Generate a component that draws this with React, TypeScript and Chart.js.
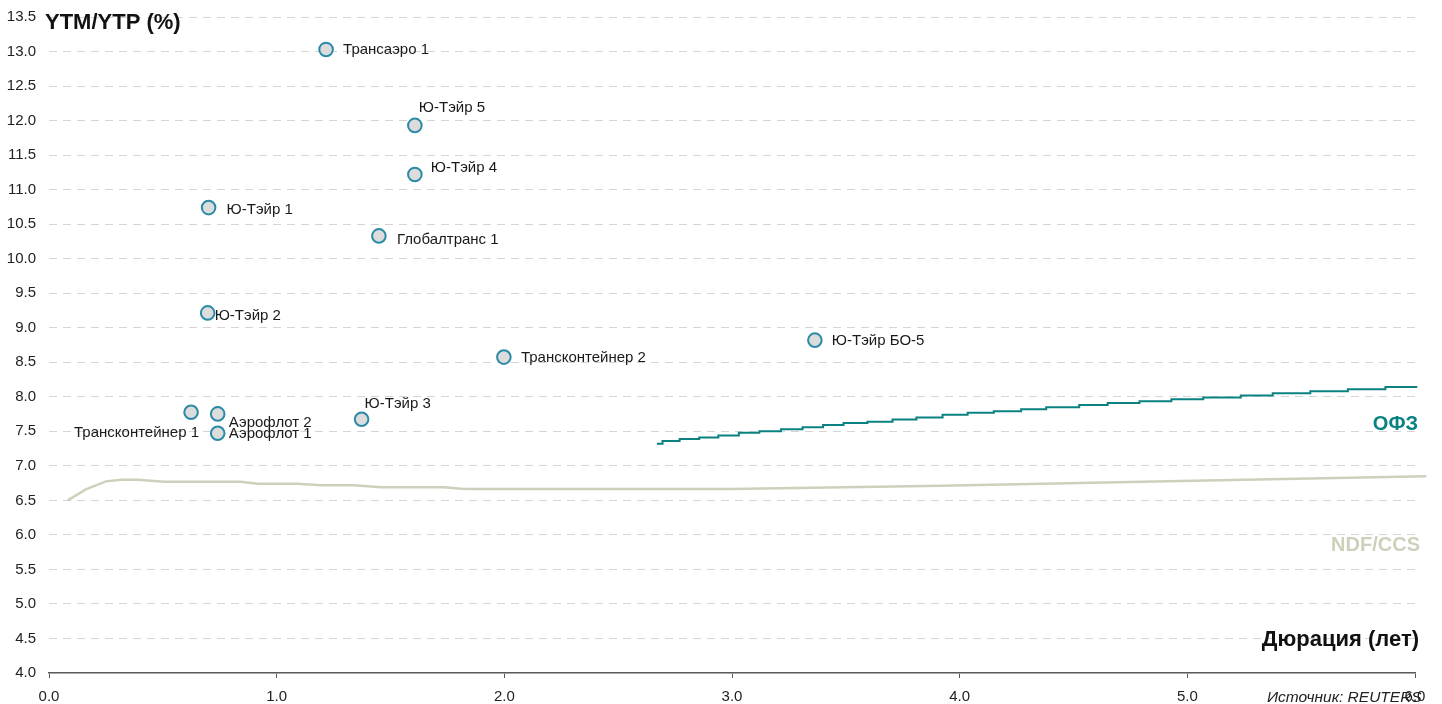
import React, { useEffect, useRef } from "react";
import { Chart, registerables } from "chart.js";

Chart.register(...registerables);

// ---- Data ----
const bondNames = [
  "Трансаэро 1",
  "Ю-Тэйр 5",
  "Ю-Тэйр 4",
  "Ю-Тэйр 1",
  "Глобалтранс 1",
  "Ю-Тэйр 2",
  "Ю-Тэйр БО-5",
  "Трансконтейнер 2",
  "Ю-Тэйр 3",
  "Трансконтейнер 1",
  "Аэрофлот 2",
  "Аэрофлот 1",
];
const bondDurations = [1.217, 1.607, 1.607, 0.701, 1.449, 0.697, 3.364, 1.998, 1.373, 0.624, 0.741, 0.741];
const bondYields = [13.03, 11.93, 11.22, 10.74, 10.33, 9.215, 8.82, 8.575, 7.675, 7.776, 7.752, 7.472];

const ofzDurations = [
  2.67, 2.695, 2.77, 2.856, 2.94, 3.03, 3.12, 3.215, 3.31, 3.4, 3.49, 3.595, 3.705, 3.81,
  3.925, 4.035, 4.15, 4.27, 4.38, 4.525, 4.65, 4.79, 4.93, 5.07, 5.235, 5.375, 5.54, 5.705,
  5.87, 6.01,
];
const ofzYields = [
  7.32, 7.36, 7.39, 7.41, 7.44, 7.48, 7.5, 7.53, 7.56, 7.59, 7.62, 7.64, 7.67, 7.7, 7.74,
  7.77, 7.79, 7.82, 7.85, 7.88, 7.91, 7.935, 7.965, 7.99, 8.02, 8.05, 8.08, 8.11, 8.14, 8.14,
];

const ndfDurations = [0.082, 0.162, 0.25, 0.316, 0.39, 0.506, 0.843, 0.917, 1.092, 1.195, 1.34, 1.458, 1.736, 1.81, 1.868, 2.995, 3.92, 4.97, 6.05];
const ndfYields = [6.5, 6.66, 6.775, 6.8, 6.8, 6.77, 6.77, 6.74, 6.74, 6.72, 6.72, 6.69, 6.69, 6.67, 6.665, 6.665, 6.71, 6.78, 6.85];

const yTicks = [4.0, 4.5, 5.0, 5.5, 6.0, 6.5, 7.0, 7.5, 8.0, 8.5, 9.0, 9.5, 10.0, 10.5, 11.0, 11.5, 12.0, 12.5, 13.0, 13.5];
const xTicks = [0, 1, 2, 3, 4, 5, 6];

const yAxisTitle = "YTM/YTP (%)";
const xAxisTitle = "Дюрация (лет)";
const ofzLabel = "ОФЗ";
const ndfLabel = "NDF/CCS";
const sourceText = "Источник: REUTERS";

// ---- Styling (label offsets in px relative to point) ----
const labelOffsets: Array<[number, number, CanvasTextAlign]> = [
  [17, 0, "left"],
  [4, -18, "left"],
  [16, -7, "left"],
  [18, 2, "left"],
  [18, 4, "left"],
  [7, 3, "left"],
  [17, 1, "left"],
  [17, 1, "left"],
  [3, -15, "left"],
  [8, 21, "right"],
  [11, 9, "left"],
  [11, 1, "left"],
];

const FONT = "'Liberation Sans', Arial, sans-serif";
const OFZ_COLOR = "#0b8282";
const NDF_COLOR = "#cfd0bb";

const annotationsPlugin = {
  id: "annotations",
  afterDatasetsDraw(chart: any) {
    const ctx = chart.ctx;
    const area = chart.chartArea;
    ctx.save();
    // point labels
    const meta = chart.getDatasetMeta(2);
    ctx.font = `15px ${FONT}`;
    ctx.fillStyle = "#1a1a1a";
    ctx.textBaseline = "middle";
    meta.data.forEach((el: any, i: number) => {
      const [dx, dy, align] = labelOffsets[i];
      ctx.textAlign = align;
      ctx.fillText(bondNames[i], el.x + dx, el.y + dy);
    });
    // titles
    ctx.font = `bold 22px ${FONT}`;
    ctx.textAlign = "left";
    ctx.fillStyle = "#111";
    ctx.fillText(yAxisTitle, area.left - 4, area.top + 6);
    ctx.textAlign = "right";
    ctx.fillText(xAxisTitle, area.right + 4, area.bottom - 33);
    ctx.font = `bold 20px ${FONT}`;
    ctx.fillStyle = OFZ_COLOR;
    ctx.fillText(ofzLabel, area.right + 3, chart.scales.y.getPixelForValue(7.6));
    ctx.fillStyle = NDF_COLOR;
    ctx.fillText(ndfLabel, area.right + 5, chart.scales.y.getPixelForValue(5.84));
    ctx.font = `italic 15.5px ${FONT}`;
    ctx.fillStyle = "#222";
    ctx.textAlign = "left";
    ctx.fillText(sourceText, area.right - 148, area.bottom + 25);
    ctx.restore();
  },
};

export default function App() {
  const ref = useRef<HTMLCanvasElement>(null);
  useEffect(() => {
    if (!ref.current) return;
    const chart = new Chart(ref.current, {
      type: "scatter",
      data: {
        datasets: [
          {
            type: "line",
            data: ndfDurations.map((x, i) => ({ x, y: ndfYields[i] })),
            borderColor: NDF_COLOR,
            borderWidth: 2.5,
            pointRadius: 0,
            tension: 0,
            fill: false,
            clip: false as any,
            order: 3,
          },
          {
            type: "line",
            data: ofzDurations.map((x, i) => ({ x, y: ofzYields[i] })),
            borderColor: OFZ_COLOR,
            borderWidth: 2,
            pointRadius: 0,
            stepped: "before",
            fill: false,
            clip: false as any,
            order: 2,
          },
          {
            type: "scatter",
            data: bondDurations.map((x, i) => ({ x, y: bondYields[i] })),
            backgroundColor: "#dcdcdc",
            borderColor: "#2b8aa6",
            borderWidth: 2,
            pointRadius: 6.8,
            order: 1,
          },
        ],
      },
      options: {
        responsive: false,
        animation: false,
        events: [],
        layout: { padding: { top: 17, right: 27, left: 0, bottom: 0 } },
        plugins: { legend: { display: false }, tooltip: { enabled: false } },
        scales: {
          x: {
            type: "linear",
            min: 0,
            max: 6,
            afterBuildTicks: (s: any) => {
              s.ticks = xTicks.map((v) => ({ value: v }));
            },
            afterFit: (s: any) => {
              s.height = 31;
              s.paddingLeft = 0;
              s.paddingRight = 0;
            },
            ticks: {
              callback: (v: any) => Number(v).toFixed(1),
              font: { family: FONT, size: 15 },
              color: "#222",
              padding: 10,
              maxRotation: 0,
            },
            grid: {
              drawOnChartArea: false,
              drawTicks: true,
              tickLength: 5,
              color: "#595959",
              lineWidth: 1,
            },
            border: { display: true, color: "#595959", width: 1.5 },
          },
          y: {
            type: "linear",
            min: 4,
            max: 13.5,
            afterBuildTicks: (s: any) => {
              s.ticks = yTicks.map((v) => ({ value: v }));
            },
            afterFit: (s: any) => {
              s.width = 49;
              s.paddingTop = 0;
              s.paddingBottom = 0;
            },
            ticks: {
              callback: (v: any) => Number(v).toFixed(1),
              font: { family: FONT, size: 15 },
              color: "#222",
              padding: 13,
            },
            grid: {
              drawTicks: false,
              color: (c: any) => (c.tick && c.tick.value === 4 ? "rgba(0,0,0,0)" : "#d4d4d4"),
              lineWidth: 1,
            },
            border: { display: false, dash: [8, 6] },
          },
        },
      },
      plugins: [annotationsPlugin],
    } as any);
    return () => chart.destroy();
  }, []);
  return (
    <div style={{ position: "fixed", left: 0, top: 0, width: 1442, height: 704, background: "#fff" }}>
      <canvas ref={ref} width={1442} height={704} style={{ display: "block" }} />
    </div>
  );
}
